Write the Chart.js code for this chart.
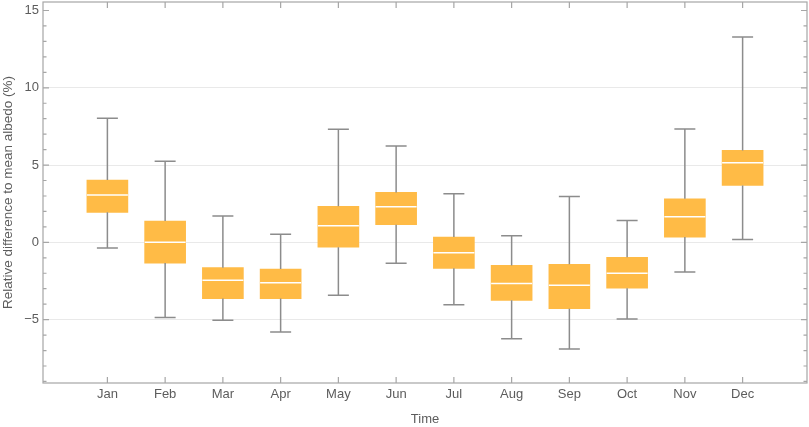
<!DOCTYPE html>
<html>
<head>
<meta charset="utf-8">
<script src="https://cdn.jsdelivr.net/npm/chart.js@4.4.1/dist/chart.umd.min.js"></script>
<style>
  html, body { margin: 0; padding: 0; background: #fff; }
  #wrap { width: 809px; height: 427px; }
</style>
</head>
<body>
<div id="wrap"><canvas id="chart"></canvas></div>
<script>
// month categories and box statistics (%)
const months = ["Jan", "Feb", "Mar", "Apr", "May", "Jun", "Jul", "Aug", "Sep", "Oct", "Nov", "Dec"];
const whiskerLow = [-0.37, -4.87, -5.04, -5.80, -3.43, -1.36, -4.03, -6.23, -6.90, -4.96, -1.92, 0.19];
const q1Values   = [1.94, -1.34, -3.64, -3.64, -0.32, 1.14, -1.68, -3.75, -4.29, -2.97, 0.34, 3.68];
const medians    = [3.06, 0.00, -2.46, -2.61, 1.07, 2.30, -0.67, -2.67, -2.78, -2.00, 1.65, 5.15];
const q3Values   = [4.03, 1.38, -1.64, -1.73, 2.33, 3.23, 0.34, -1.49, -1.42, -0.97, 2.82, 5.95];
const whiskerHigh = [8.03, 5.24, 1.70, 0.52, 7.32, 6.23, 3.14, 0.43, 2.97, 1.42, 7.34, 13.29];
const yTickValues = [-5, 0, 5, 10, 15];
const yGridValues = [-5, 0, 5, 10];

const boxColor = "#FFBB46";
const lineGray = "#8c8c8c";
const frameGray = "#a6a6a6";
const textGray = "#5c5c5c";

// whiskers + medians, drawn with the chart scales
const boxPlugin = {
  id: "boxPlugin",
  afterDatasetsDraw(chart) {
    const { ctx, scales: { x, y } } = chart;
    const halfBox = 20.5, halfCap = 10.5;
    ctx.save();
    months.forEach((m, i) => {
      const px = x.getPixelForValue(i + 1);
      ctx.strokeStyle = lineGray;
      ctx.lineWidth = 1.5;
      ctx.beginPath();
      ctx.moveTo(px, y.getPixelForValue(q3Values[i]));
      ctx.lineTo(px, y.getPixelForValue(whiskerHigh[i]));
      ctx.moveTo(px, y.getPixelForValue(q1Values[i]));
      ctx.lineTo(px, y.getPixelForValue(whiskerLow[i]));
      ctx.moveTo(px - halfCap, y.getPixelForValue(whiskerHigh[i]));
      ctx.lineTo(px + halfCap, y.getPixelForValue(whiskerHigh[i]));
      ctx.moveTo(px - halfCap, y.getPixelForValue(whiskerLow[i]));
      ctx.lineTo(px + halfCap, y.getPixelForValue(whiskerLow[i]));
      ctx.stroke();
      ctx.strokeStyle = "#ffffff";
      ctx.lineWidth = 1.5;
      ctx.beginPath();
      ctx.moveTo(px - halfBox, y.getPixelForValue(medians[i]));
      ctx.lineTo(px + halfBox, y.getPixelForValue(medians[i]));
      ctx.stroke();
    });
    ctx.restore();
  }
};

// frame with inward ticks on all four sides
const framePlugin = {
  id: "framePlugin",
  afterDraw(chart) {
    const { ctx, chartArea: a, scales: { x, y } } = chart;
    ctx.save();
    ctx.strokeStyle = frameGray;
    ctx.lineWidth = 1.2;
    ctx.strokeRect(a.left, a.top, a.right - a.left, a.bottom - a.top);
    ctx.beginPath();
    months.forEach((m, i) => {
      const px = x.getPixelForValue(i + 1);
      ctx.moveTo(px, a.bottom); ctx.lineTo(px, a.bottom - 6);
      ctx.moveTo(px, a.top); ctx.lineTo(px, a.top + 6);
    });
    for (let v = -9; v <= 15; v++) {
      const py = y.getPixelForValue(v);
      const len = v % 5 === 0 ? 6 : 3.5;
      ctx.moveTo(a.left, py); ctx.lineTo(a.left + len, py);
      ctx.moveTo(a.right, py); ctx.lineTo(a.right - len, py);
    }
    ctx.stroke();
    ctx.restore();
  }
};

new Chart(document.getElementById("chart"), {
  type: "bar",
  data: {
    datasets: [{
      label: "IQR",
      data: months.map((m, i) => ({ x: i + 1, y: [q1Values[i], q3Values[i]] })),
      backgroundColor: boxColor,
      borderWidth: 0,
      barThickness: 41
    }]
  },
  options: {
    responsive: true,
    maintainAspectRatio: false,
    animation: false,
    layout: { padding: { top: 2, right: 2, left: 0, bottom: 0 } },
    plugins: { legend: { display: false }, tooltip: { enabled: false } },
    scales: {
      x: {
        type: "linear",
        offset: false,
        min: -0.115,
        max: 13.115,
        afterBuildTicks: s => { s.ticks = months.map((m, i) => ({ value: i + 1 })); },
        afterFit: s => { s.height = 44; s.paddingLeft = 0; s.paddingRight = 0; },
        ticks: {
          callback: v => months[v - 1],
          color: textGray,
          font: { family: "Liberation Sans", size: 13 },
          padding: 4,
          autoSkip: false,
          maxRotation: 0
        },
        grid: { display: false, drawTicks: false, offset: false },
        border: { display: false },
        title: {
          display: true,
          text: "Time",
          color: textGray,
          font: { family: "Liberation Sans", size: 13 },
          padding: { top: 6, bottom: 0 }
        }
      },
      y: {
        min: -9.1,
        max: 15.55,
        afterBuildTicks: s => { s.ticks = yTickValues.map(v => ({ value: v })); },
        afterFit: s => { s.width = 43; s.paddingTop = 0; s.paddingBottom = 0; },
        ticks: {
          callback: v => v < 0 ? "\u2212" + Math.abs(v) : String(v),
          color: textGray,
          font: { family: "Liberation Sans", size: 13 },
          padding: 4
        },
        grid: {
          drawTicks: false,
          color: c => yGridValues.includes(c.tick.value) ? "#e9e9e9" : "rgba(0,0,0,0)",
          lineWidth: 1
        },
        border: { display: false },
        title: {
          display: true,
          text: "Relative difference to mean albedo (%)",
          color: textGray,
          font: { family: "Liberation Sans", size: 13.5 },
          padding: { top: 0, bottom: 2 }
        }
      }
    }
  },
  plugins: [boxPlugin, framePlugin]
});
</script>
</body>
</html>
